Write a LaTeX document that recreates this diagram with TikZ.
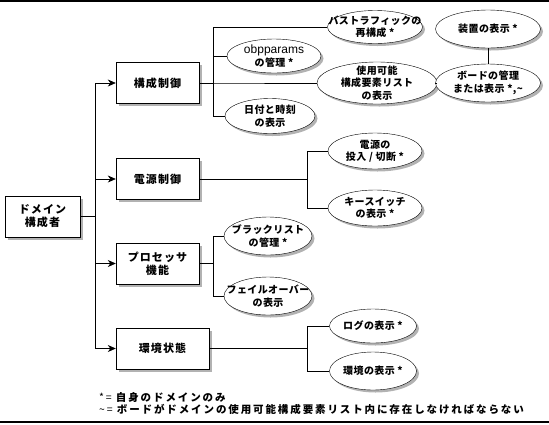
\documentclass[tikz,border=0pt]{standalone}
\usepackage{fontspec}
\usetikzlibrary{arrows.meta,shapes.geometric,shadows}
\newfontfamily\jp{Noto Sans CJK JP}
\newfontfamily\latinfont{Liberation Sans}

\begin{document}
\begin{tikzpicture}[x=1pt,y=-1pt,
  box/.style={draw,fill=white,minimum height=41pt,inner sep=0pt,align=center,
    font=\jp\bfseries\fontsize{11}{13}\selectfont\addfontfeature{LetterSpace=10},
    drop shadow={shadow xshift=2.5pt,shadow yshift=-2.5pt,fill=black!30,opacity=1}},
  oval/.style={ellipse,draw,fill=white,inner sep=0pt,
    drop shadow={shadow xshift=2.5pt,shadow yshift=-2.5pt,fill=black!30,opacity=1}},
  lbl/.style={align=center,inner sep=0pt,
    font=\jp\bfseries\fontsize{10}{12.5}\selectfont\addfontfeature{LetterSpace=4}},
  note/.style={anchor=west,inner sep=0pt,
    font=\jp\bfseries\fontsize{10.5}{11}\selectfont\addfontfeature{LetterSpace=18}},
  link/.style={line width=0.7pt},
  arr/.style={link,-{Stealth[length=8pt,width=7pt,inset=2.5pt]}}]
\useasboundingbox (0,0) rectangle (549,424);

% frame lines
\draw[line width=2pt] (0,1) -- (549,1);
\draw[line width=2pt] (0,422) -- (549,422);

% domain configurator and its functions
\node[box,minimum width=75pt] (dc) at (42.5,216.5) {ドメイン\\構成者};
\node[box,minimum width=83pt] (cfg) at (157.5,83) {構成制御};
\node[box,minimum width=83pt] (pwr) at (157.5,179) {電源制御};
\node[box,minimum width=83pt] (cpu) at (157.5,263.5) {プロセッサ\\機能};
\node[box,minimum width=93pt] (env) at (162.5,348.5) {環境状態};

% configuration control
\node[oval,minimum width=95pt,minimum height=33pt,
  label={[lbl]center:バストラフィックの\\再構成 *}] (bus) at (375,27) {};
\node[oval,minimum width=94pt,minimum height=34pt,
  label={[lbl]center:{\latinfont\mdseries\fontsize{12}{13}\selectfont obpparams}\\の管理 *}] (obp) at (274,56) {};
\node[oval,minimum width=120pt,minimum height=42pt,
  label={[lbl]center:使用可能\\構成要素リスト\\の表示}] (avail) at (377,83) {};
\node[oval,minimum width=90pt,minimum height=35pt,
  label={[lbl]center:日付と時刻\\の表示}] (date) at (270,116) {};
\node[oval,minimum width=105pt,minimum height=38pt,
  label={[lbl]center:装置の表示 *}] (device) at (488,29) {};
\node[oval,minimum width=105pt,minimum height=38pt,
  label={[lbl]center:ボードの管理\\または表示 *,\textasciitilde}] (board) at (488,83) {};

% power control
\node[oval,minimum width=94pt,minimum height=36pt,
  label={[lbl]center:電源の\\投入 / 切断 *}] (onoff) at (375,151) {};
\node[oval,minimum width=94pt,minimum height=36pt,
  label={[lbl]center:キースイッチ\\の表示 *}] (key) at (375,208) {};

% processor functions
\node[oval,minimum width=88pt,minimum height=38pt,
  label={[lbl]center:ブラックリスト\\の管理 *}] (black) at (268,236) {};
\node[oval,minimum width=88pt,minimum height=38pt,
  label={[lbl]center:フェイルオーバー\\の表示}] (fail) at (268,296) {};

% environment status
\node[oval,minimum width=87pt,minimum height=34pt,
  label={[lbl]center:ログの表示 *}] (log) at (373,326) {};
\node[oval,minimum width=87pt,minimum height=38pt,
  label={[lbl]center:環境の表示 *}] (envshow) at (373,371) {};

% connectors
\foreach \b in {cfg,pwr,cpu,env}
  \draw[arr] (dc.east) -- ++(15,0) |- (\b.west);
\foreach \e in {bus,obp,avail,date}
  \draw[link] (cfg.east) -- ++(14,0) |- (\e.west);
\foreach \e in {onoff,key}
  \draw[link] (pwr.east) -- ++(108,0) |- (\e.west);
\foreach \e in {black,fail}
  \draw[link] (cpu.east) -- ++(14,0) |- (\e.west);
\foreach \e in {log,envshow}
  \draw[link] (env.east) -- ++(98,0) |- (\e.west);
\draw[link] (avail.east) -- (board.west);
\draw[link] (device.south) -- (board.north);

% legend
\node[note] (note1) at (99,397) {{\mdseries *\,=} 自身のドメインのみ};
\node[note] (note2) at (99,409) {{\mdseries \textasciitilde\,=} ボードがドメインの使用可能構成要素リスト内に存在しなければならない};
\end{tikzpicture}
\end{document}
